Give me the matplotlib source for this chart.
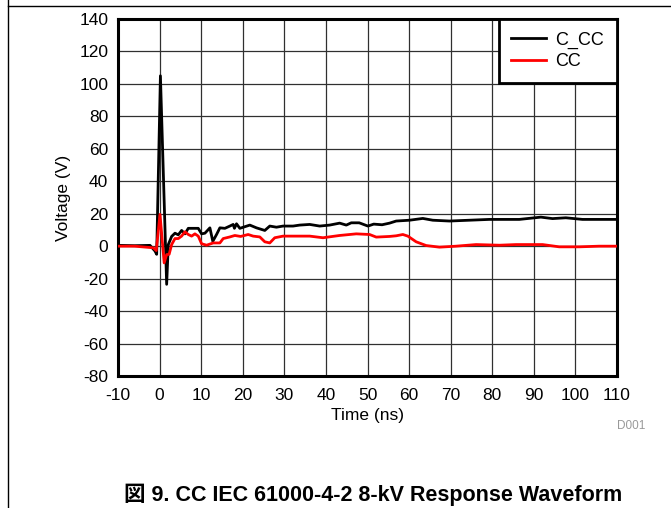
import numpy as np
import matplotlib
matplotlib.use('Agg')
import matplotlib.pyplot as plt
from matplotlib.lines import Line2D

#digitized waveform, time in ns, voltage in V
t_ccc=[-10,-6,-2.3,-1.1,-0.7,0.2,1.7,2.1,2.9,3.7,4.5,5.3,6.1,6.9,8.5,9.3,10.1,
       10.9,12.1,12.8,13.7,14.5,15.7,16.9,17.7,18.0,18.5,19.3,21.7,23.3,25.3,26.5,
       28.1,29.7,32.1,33.7,36.1,38.5,40.9,43.3,44.9,46.1,48.0,50.1,51.5,53.5,55.3,
       56.9,60.1,63.3,65.7,69.7,74.5,79.3,84.1,86.5,91.7,94.5,97.7,101.7,105.7,110]
v_ccc=[0.5,0.3,0.5,-3,-5,105,-23.5,1,6,8,7,9.7,7.6,11,11,11,7.6,
       8,11.3,3,7.2,11.3,11,12.4,13.4,11,13.8,11,13,11.3,9.7,12.4,
       11.7,12.4,12.4,13,13.4,12.4,13,14.2,13,14.4,14.4,12.4,13.6,13.2,14.2,
       15.5,16,17.1,16,15.5,16,16.5,16.5,16.5,17.9,17,17.5,16.5,16.5,16.5]

t_cc=[-10,-6,-1.5,-0.8,0.1,1.1,1.7,2.3,2.9,3.7,4.5,5.3,6.1,6.9,7.7,8.5,9.3,10.1,
      11.3,12.9,14.5,15.3,16.9,18.1,19.5,21.3,22.5,24.1,25.3,26.5,27.7,29.7,32.1,
      36.1,39.3,43.3,47.3,50.5,52.1,55.3,56.9,58.5,59.7,61.7,64.1,67.3,71.3,76.1,
      81.7,85.7,92.1,96.1,100.9,105.7,110]
v_cc=[0,0,-1,-2.7,19.6,-10.3,-5.2,-5,1,4.7,4.7,6.2,8.9,7.2,6.2,7.6,6.2,1.5,
      0.6,2,2,4.7,5.7,6.6,6,7.2,6.2,5.7,2.7,2,5.2,6.2,6.2,
      6.2,5.2,6.6,7.6,7.2,5.6,6,6.4,7.2,6.2,2.7,0.4,-0.6,0,1,
      0.6,1,1,-0.4,-0.4,0,0]

x_ticks=list(range(-10,111,10))
y_ticks=list(range(-80,141,20))

plt.rcParams['font.family']=['Liberation Sans','Noto Sans CJK JP','DejaVu Sans']
plt.rcParams['axes.unicode_minus']=False

fig=plt.figure(figsize=(6.71,5.08),dpi=100)
ax=fig.add_axes([118/671,1-376/508,(617-118)/671,(376-19)/508])

ax.plot(t_ccc,v_ccc,color='black',lw=2.0,label='C_CC',zorder=3)
ax.plot(t_cc,v_cc,color='#ff0000',lw=2.0,label='CC',zorder=4)

ax.set_xlim(-10,110)
ax.set_ylim(-80,140)
ax.set_xticks(x_ticks)
ax.set_yticks(y_ticks)
ax.grid(True,color='#303030',lw=0.9)
ax.set_axisbelow(True)
ax.tick_params(length=0,labelsize=12.5)
ax.tick_params(axis='x',pad=9)
ax.tick_params(axis='y',pad=7)

for s in ax.spines.values():
    s.set_linewidth(2.2)

ax.set_xlabel('Time (ns)',fontsize=12.5,labelpad=3)
ax.set_ylabel('Voltage (V)',fontsize=12.5,labelpad=6)

leg=ax.legend(loc='upper right',fontsize=13,frameon=True,fancybox=False,
              borderaxespad=0,handlelength=1.9,handletextpad=0.55,
              borderpad=0.7,labelspacing=0.25)
leg.get_frame().set_edgecolor('black')
leg.get_frame().set_linewidth(2.0)
leg.get_frame().set_alpha(1)

#page frame lines
fig.add_artist(Line2D([8/671,1],[1-6/508,1-6/508],color='black',lw=1))
fig.add_artist(Line2D([8/671,8/671],[0,1],color='black',lw=1))

fig.text(645/671,1-426/508,'D001',color='#999999',fontsize=8.5,ha='right',va='center')
fig.text(373/671,1-495/508,'図 9. CC IEC 61000-4-2 8-kV Response Waveform',
         fontsize=15.5,fontweight='bold',ha='center',va='center')

plt.savefig('out.png',dpi=100)
plt.close()
